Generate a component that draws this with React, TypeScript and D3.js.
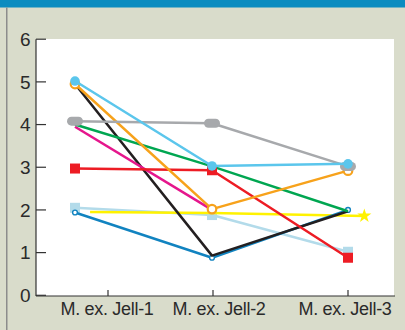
import React from "react";
import * as d3 from "d3";

const categories = ["M. ex. Jell-1", "M. ex. Jell-2", "M. ex. Jell-3"];
const yTicks = [0, 1, 2, 3, 4, 5, 6];

const paleBlue = [2.05, 1.88, 1.02];
const yellow = [1.95, 1.93, 1.86];
const yellowPos = [0.11, 1, 2.12];
const darkBlue = [1.94, 0.88, 2.0];
const black = [4.95, 0.93, 1.97];
const magenta = [3.95, 2.0];
const green = [4.0, 3.02, 1.97];
const red = [2.97, 2.93, 0.88];
const gray = [4.08, 4.03, 3.02];
const orange = [4.95, 2.02, 2.92];
const sky = [5.02, 3.03, 3.08];

type Marker = "none" | "square" | "star" | "ring" | "smallring" | "pill" | "dot";
interface Series { values: number[]; pos?: number[]; color: string; marker: Marker; lastOnly?: boolean }

const series: Series[] = [
  { values: paleBlue, color: "#b3dbea", marker: "square" },
  { values: yellow, pos: yellowPos, color: "#fff200", marker: "star", lastOnly: true },
  { values: darkBlue, color: "#1183c0", marker: "smallring" },
  { values: black, color: "#231f20", marker: "none" },
  { values: magenta, color: "#e5168c", marker: "none" },
  { values: green, color: "#00a651", marker: "none" },
  { values: red, color: "#ed1c24", marker: "square" },
  { values: orange, color: "#f7a21b", marker: "ring" },
  { values: gray, color: "#a7a9ac", marker: "pill" },
  { values: sky, color: "#5bc6ec", marker: "dot" },
];

const W = 405;
const H = 330;
const plotLeft = 36;
const plotRight = 394;
const plotTop = 39;
const plotBottom = 296;

export default function App() {
  const y = d3.scaleLinear().domain([0, 6]).range([295.3, 39.2]);
  const x = d3.scaleLinear().domain([0, 1, 2]).range([75, 212, 348]);
  const xAxis = d3.scaleLinear().domain([0, 1, 2]).range([108, 213, 348]);
  const labelX = d3.scaleLinear().domain([0, 1, 2]).range([107, 219, 345]);
  const line = d3.line<[number, number]>().x((d) => x(d[0])).y((d) => y(d[1]));
  const star = d3.symbol().type(d3.symbolStar).size(62)();

  const renderMarker = (m: Marker, cx: number, cy: number, color: string, key: string) => {
    switch (m) {
      case "square":
        return <rect key={key} x={cx - 5} y={cy - 5} width={10} height={10} fill={color} />;
      case "star":
        return <path key={key} d={star!} transform={`translate(${cx},${cy})`} fill={color} />;
      case "ring":
        return <circle key={key} cx={cx} cy={cy} r={4.3} fill="#fff" stroke={color} strokeWidth={2.2} />;
      case "smallring":
        return <circle key={key} cx={cx} cy={cy} r={2.4} fill="#fff" stroke={color} strokeWidth={1.4} />;
      case "pill":
        return <rect key={key} x={cx - 8} y={cy - 4.5} width={16} height={9} rx={4.5} fill={color} />;
      case "dot":
        return <circle key={key} cx={cx} cy={cy} r={4.8} fill={color} />;
      default:
        return null;
    }
  };

  return (
    <svg width={W} height={H} style={{ position: "absolute", left: 0, top: 0 }} fontFamily="'Liberation Sans', Arial, sans-serif">
      <rect x={0} y={0} width={W} height={H} fill="#d9dccb" />
      <rect x={0} y={0} width={W} height={7.5} fill="#0b8cc0" />
      <rect x={6} y={7.5} width={1.5} height={H} fill="#8c8c8c" />
      <rect x={plotLeft} y={plotTop} width={plotRight - plotLeft} height={plotBottom - plotTop} fill="#fff" />

      {series.map((s, si) => {
        const pts: [number, number][] = s.values.map((v, i) => [s.pos ? s.pos[i] : i, v]);
        return (
          <g key={si}>
            <path d={line(pts)!} fill="none" stroke={s.color} strokeWidth={2.5} strokeLinejoin="round" />
            {pts.map((p, i) =>
              s.lastOnly && i !== pts.length - 1 ? null : renderMarker(s.marker, x(p[0]), y(p[1]), s.color, `${si}-${i}`)
            )}
          </g>
        );
      })}

      {/* axes */}
      <line x1={plotLeft} x2={plotLeft} y1={y(6)} y2={plotBottom} stroke="#333" strokeWidth={1.2} />
      <line x1={plotLeft} x2={395} y1={plotBottom} y2={plotBottom} stroke="#333" strokeWidth={1.2} />
      {yTicks.map((t) => (
        <g key={t}>
          <line x1={plotLeft} x2={plotLeft + 10} y1={y(t)} y2={y(t)} stroke="#333" strokeWidth={1.2} />
          <text x={30.5} y={y(t)} dy="0.36em" textAnchor="end" fontSize={19} fill="#2a2a2a">{t}</text>
        </g>
      ))}
      {categories.map((c, i) => (
        <g key={c}>
          <line x1={xAxis(i)} x2={xAxis(i)} y1={plotBottom - 6} y2={plotBottom} stroke="#333" strokeWidth={1.2} />
          <text x={labelX(i)} y={315} textAnchor="middle" fontSize={18} fill="#2a2a2a" letterSpacing={-0.3}>{c}</text>
        </g>
      ))}
    </svg>
  );
}
